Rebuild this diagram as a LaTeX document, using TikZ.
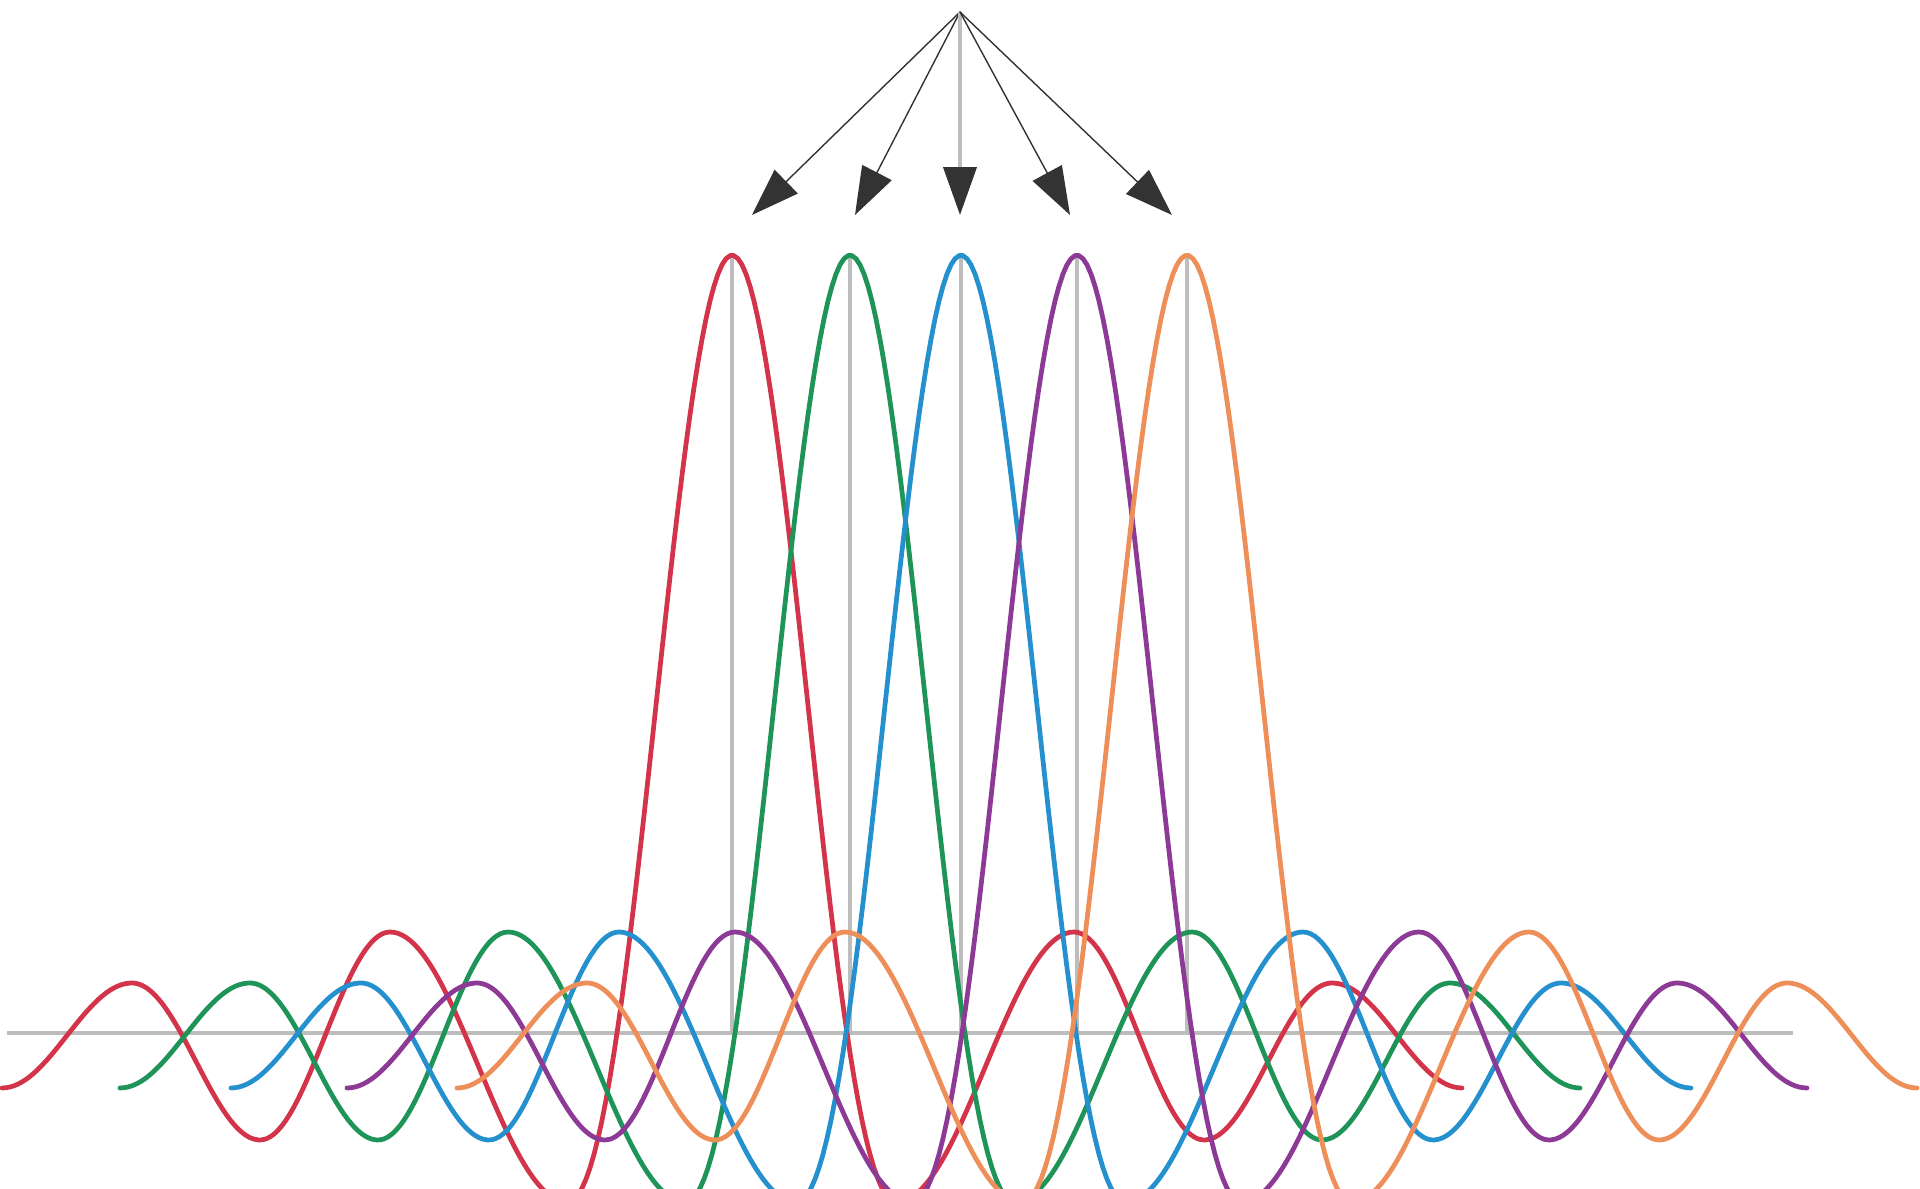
\documentclass[tikz,border=0pt]{standalone}
\usepackage{xcolor}
\usetikzlibrary{arrows.meta}

\definecolor{carred}{HTML}{D3344A}
\definecolor{cargreen}{HTML}{1F9458}
\definecolor{carblue}{HTML}{2590CE}
\definecolor{carpurple}{HTML}{8C3A95}
\definecolor{carorange}{HTML}{EE8E58}
\definecolor{stemgray}{HTML}{BDBDBD}
\definecolor{arrowgray}{HTML}{333333}

\begin{document}
\begin{tikzpicture}
	[x=0.01cm, y=-0.01cm, line join=round,
	declare function={
		seg(\t,\a,\va,\b,\vb) = (\va+\vb)/2 + (\va-\vb)/2*cos((\t-\a)/(\b-\a)*180);
		lobe(\d) = (abs(\d)<164.5) ? 778*sin((abs(\d)+0.01)/115*180)/(pi*(abs(\d)+0.01)/115) :
			((abs(\d)<342) ? seg(abs(\d),164.5,-169,342,101) :
			((abs(\d)<472) ? seg(abs(\d),342,101,472,-107) :
			((abs(\d)<600) ? seg(abs(\d),472,-107,600,50) : seg(abs(\d),600,50,730,-55))));
	},
	carrier/.style = {line width=1.35pt, line cap=round, domain=-730:730, samples=366},
	stem/.style = {draw=stemgray, line width=0.9pt},
	pointer/.style = {draw=arrowgray, line width=0.4pt, -{Triangle[length=13.6pt, width=9.4pt, color=arrowgray]}}]
	\useasboundingbox (0,0) rectangle (1920,1189);
	\clip (0,0) rectangle (1920,1189);
	% arrows
	\coordinate (top) at (960,12);
	\coordinate (t1) at (752,215);
	\coordinate (t2) at (855,215);
	\coordinate (t3) at (960,215);
	\coordinate (t4) at (1070,215);
	\coordinate (t5) at (1172,215);
	\draw[pointer] (top) -- (t1);
	\draw[pointer] (top) -- (t2);
	\draw[pointer, draw=stemgray, line width=1pt] (top) -- (t3);
	\draw[pointer] (top) -- (t4);
	\draw[pointer] (top) -- (t5);
	% baseline and stems
	\coordinate (b0) at (7,1033);
	\coordinate (b9) at (1793,1033);
	\coordinate (p1) at (732,258);
	\coordinate (p2) at (850,258);
	\coordinate (p3) at (961,258);
	\coordinate (p4) at (1077,258);
	\coordinate (p5) at (1187,258);
	\draw[stem] (p1) -- (p1 |- b0);
	\draw[stem] (p2) -- (p2 |- b0);
	\draw[stem] (p3) -- (p3 |- b0);
	\draw[stem] (p4) -- (p4 |- b0);
	\draw[stem] (p5) -- (p5 |- b0);
	\draw[stem, line width=1.2pt] (b0) -- (b9);
	% subcarriers
	\draw[carrier, carred] plot (\x+732, {1033-lobe(\x)});
	\draw[carrier, cargreen] plot (\x+850, {1033-lobe(\x)});
	\draw[carrier, carblue] plot (\x+961, {1033-lobe(\x)});
	\draw[carrier, carpurple] plot (\x+1077, {1033-lobe(\x)});
	\draw[carrier, carorange] plot (\x+1187, {1033-lobe(\x)});
\end{tikzpicture}
\end{document}
